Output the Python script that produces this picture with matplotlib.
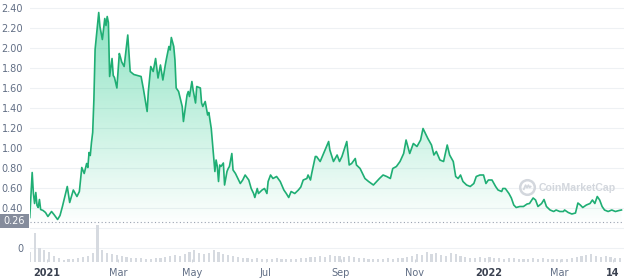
import numpy as np
import pandas as pd
import matplotlib
matplotlib.use('Agg')
import matplotlib.pyplot as plt
import matplotlib.dates as mdates
from matplotlib.patches import Rectangle, Polygon
from matplotlib.lines import Line2D

start = pd.Timestamp('2021-01-01')

# price in USD, days counted from 1 Jan 2021
price_day = [-14, -12, -11, -10, -9, -8, -7, -6, -5, -3, -1, 1, 4, 6, 9, 11, 13, 17, 19, 22,
             25, 27, 29, 31, 33, 34, 35, 36, 37, 38, 39, 40, 43, 44, 46, 48, 49, 50, 51, 52,
             54, 55, 56, 58, 60, 61, 62, 64, 67, 69, 72, 75, 78, 80, 83, 84, 86, 88, 90, 92,
             94, 96, 98, 99, 101, 102, 103, 105, 106, 107, 109, 110, 112, 113, 114, 116, 117, 118, 120, 121,
             123, 124, 127, 128, 129, 131, 133, 134, 136, 138, 139, 140, 141, 142, 143, 144, 146, 147, 149, 150,
             151, 153, 154, 156, 158, 160, 162, 164, 167, 169, 171, 172, 174, 175, 178, 180, 182, 183, 185, 187,
             190, 193, 196, 198, 200, 202, 205, 208, 210, 212, 215, 216, 218, 219, 222, 223, 226, 230, 233, 234,
             237, 240, 242, 244, 248, 250, 252, 255, 256, 259, 263, 266, 270, 275, 278, 281, 284, 286, 289, 292,
             295, 297, 300, 303, 306, 309, 311, 313, 315, 318, 320, 322, 325, 328, 331, 333, 336, 338, 340, 342,
             344, 347, 350, 353, 355, 358, 361, 363, 365, 368, 371, 373, 376, 377, 379, 382, 384, 386, 388, 391,
             394, 397, 399, 402, 404, 406, 409, 411, 413, 416, 419, 421, 424, 427, 428, 431, 434, 437, 439, 441,
             443, 446, 449, 451, 453, 455, 457, 459, 461, 464, 467, 470, 473, 475]
price = [0.30, 0.75, 0.54, 0.44, 0.55, 0.42, 0.40, 0.48, 0.38, 0.37, 0.35, 0.31, 0.36, 0.33, 0.28, 0.32, 0.41, 0.61, 0.45, 0.575,
         0.51, 0.56, 0.80, 0.74, 0.84, 0.80, 0.95, 0.92, 1.05, 1.15, 1.48, 1.98, 2.35, 2.21, 2.08, 2.29, 2.22, 2.31, 2.25, 1.71,
         1.89, 1.72, 1.70, 1.595, 1.94, 1.90, 1.855, 1.81, 2.125, 1.76, 1.73, 1.72, 1.71, 1.58, 1.36, 1.56, 1.81, 1.76, 1.89, 1.695,
         1.825, 1.675, 1.825, 1.89, 2.01, 1.975, 2.10, 2.01, 1.875, 1.595, 1.56, 1.51, 1.41, 1.26, 1.35, 1.525, 1.56, 1.51, 1.66, 1.575,
         1.445, 1.61, 1.595, 1.445, 1.41, 1.46, 1.325, 1.35, 1.19, 0.91, 0.76, 0.875, 0.81, 0.66, 0.825, 0.81, 0.845, 0.625, 0.76, 0.79,
         0.81, 0.94, 0.775, 0.74, 0.69, 0.64, 0.675, 0.725, 0.675, 0.59, 0.54, 0.50, 0.59, 0.54, 0.575, 0.59, 0.54, 0.66, 0.725, 0.69,
         0.71, 0.66, 0.575, 0.54, 0.50, 0.56, 0.54, 0.575, 0.605, 0.675, 0.69, 0.725, 0.675, 0.74, 0.91, 0.91, 0.86, 0.975, 1.06, 0.975,
         0.86, 0.925, 0.86, 0.91, 1.06, 0.825, 0.84, 0.89, 0.825, 0.79, 0.69, 0.66, 0.625, 0.69, 0.725, 0.71, 0.69, 0.79, 0.81, 0.86,
         0.94, 1.075, 0.94, 1.04, 1.01, 1.075, 1.19, 1.14, 1.09, 1.025, 0.925, 0.96, 0.875, 0.86, 1.025, 0.925, 0.86, 0.71, 0.69, 0.725,
         0.66, 0.625, 0.61, 0.64, 0.71, 0.725, 0.725, 0.64, 0.675, 0.675, 0.61, 0.575, 0.56, 0.59, 0.59, 0.54, 0.495, 0.425, 0.40, 0.41,
         0.41, 0.435, 0.44, 0.495, 0.475, 0.41, 0.44, 0.48, 0.41, 0.375, 0.36, 0.375, 0.36, 0.36, 0.375, 0.35, 0.335, 0.345, 0.445, 0.425,
         0.40, 0.425, 0.44, 0.475, 0.44, 0.51, 0.475, 0.41, 0.375, 0.36, 0.375, 0.36, 0.37, 0.375]

# trading volume in $M, one bar every 4 days from 18 Dec 2020
vol_day = list(range(-14, 475, 4))
volume = [100, 290, 140, 120,
          100, 60, 40, 20, 30, 30, 40, 50,
          60, 90, 380, 120, 90, 80, 70,
          60, 50, 40, 40, 40, 30, 30, 40,
          40, 50, 60, 70, 60, 80, 100,
          120, 90, 80, 90, 120, 100, 80, 70,
          60, 50, 40, 40, 30, 40, 30,
          30, 30, 40, 30, 30, 30, 30, 40,
          40, 50, 50, 60, 50, 70, 60, 60,
          50, 60, 50, 40, 40, 30, 30,
          30, 30, 40, 30, 40, 40, 50, 60,
          80, 70, 100, 80, 90, 70, 60, 90,
          80, 60, 50, 40, 40, 50, 40,
          50, 40, 40, 30, 40, 40, 30, 30,
          30, 40, 30, 40, 30, 30, 30,
          30, 30, 40, 50, 60, 70, 80, 60,
          50, 60, 50, 40, 40]

tick_dates = ['2021-01-01', '2021-03-01', '2021-05-01', '2021-07-01', '2021-09-01',
              '2021-11-01', '2022-01-01', '2022-03-01', '2022-04-14']
tick_labels = ['2021', 'Mar', 'May', 'Jul', 'Sep', 'Nov', '2022', 'Mar', '14']
bold_labels = ['2021', '2022', '14']
price_ticks = [0, 0.2, 0.4, 0.6, 0.8, 1.0, 1.2, 1.4, 1.6, 1.8, 2.0, 2.2, 2.4]
last_price = 0.26

green = '#1fae74'
grey_txt = '#616e85'

x = mdates.date2num((start + pd.to_timedelta(price_day, unit='D')).to_numpy())
vx = mdates.date2num((start + pd.to_timedelta(vol_day, unit='D')).to_numpy())
x_left = mdates.date2num(start + pd.Timedelta(days=-13.8))
x_right = mdates.date2num(start + pd.Timedelta(days=477.1))

fig = plt.figure(figsize=(6.24, 2.8), dpi=100)
ax = fig.add_axes([30/624, 18/280, 594/624, 262/280])
ax.set_xlim(x_left, x_right)
ax.set_ylim(-0.145, 2.475)

for s in ax.spines.values():
    s.set_visible(False)
ax.set_yticks(price_ticks)
# the 0.20 label sits under the last-price tag, so it is left blank
ax.set_yticklabels(['0', ''] + ['%.2f' % v for v in price_ticks[2:]])
ax.grid(axis='y', color='#eef1f4', lw=0.8)
ax.set_axisbelow(True)
ax.tick_params(axis='y', length=0, pad=5, labelsize=7, labelcolor=grey_txt)

ax.set_xticks(mdates.date2num(pd.to_datetime(tick_dates).to_numpy()))
ax.set_xticklabels(tick_labels)
ax.tick_params(axis='x', length=2.5, width=0.6, color='#c9ced6', direction='in', pad=4,
               labelsize=7, labelcolor=grey_txt)
for lab in ax.get_xticklabels():
    if lab.get_text() in bold_labels:
        lab.set_fontweight('bold')
        lab.set_color('#3a4150')

# gradient area under the price line
poly = Polygon(np.column_stack([np.r_[x, x[-1], x[0]], np.r_[price, 0.2, 0.2]]),
               closed=True, facecolor='none', edgecolor='none')
ax.add_patch(poly)
img = np.zeros((256, 1, 4))
img[..., :3] = matplotlib.colors.to_rgb('#16c784')
img[..., 3] = np.linspace(0.0, 0.5, 256)[:, None]
im = ax.imshow(img, extent=[x[0], x[-1], 0.2, 2.4], origin='lower', aspect='auto', zorder=1)
im.set_clip_path(poly)

ax.plot(x, price, color=green, lw=1.2, zorder=3)
ax.axhline(last_price, color='#9aa2b0', lw=0.8, ls=(0, (1, 2.2)), zorder=2)

# volume bars
axv = ax.twinx()
axv.bar(vx, volume, width=1.8, color='#d6dae0', lw=0)
axv.set_ylim(0, max(volume) * 7)
axv.set_xlim(x_left, x_right)
axv.axis('off')

# last price label
fig.add_artist(Rectangle((0, (280-228)/280), 29/624, 14/280, transform=fig.transFigure,
                         facecolor='#858c9c', edgecolor='none'))
fig.text(14.5/624, (280-221)/280, '%.2f' % last_price, color='white', fontsize=7,
         ha='center', va='center')

# watermark
wm = '#d3d7dd'
fig.text(539/624, (280-188)/280, 'CoinMarketCap', fontsize=7.6, fontweight='bold', color=wm,
         family='Liberation Sans', ha='left', va='center')
cx, cy = 527, 280 - 187
fig.add_artist(Line2D([cx/624], [cy/280], marker='o', ms=10.5, mfc='none', mec=wm, mew=1.8,
                      transform=fig.transFigure))
mx = np.array([-3.2, -1.4, 0, 1.4, 2.6, 3.6])
my = np.array([-2.2, 1.8, -0.6, 1.8, -0.4, 0.4])
fig.add_artist(Line2D((cx + mx)/624, (cy + my)/280, color=wm, lw=1.3, transform=fig.transFigure))

fig.savefig('out.png', dpi=100)
